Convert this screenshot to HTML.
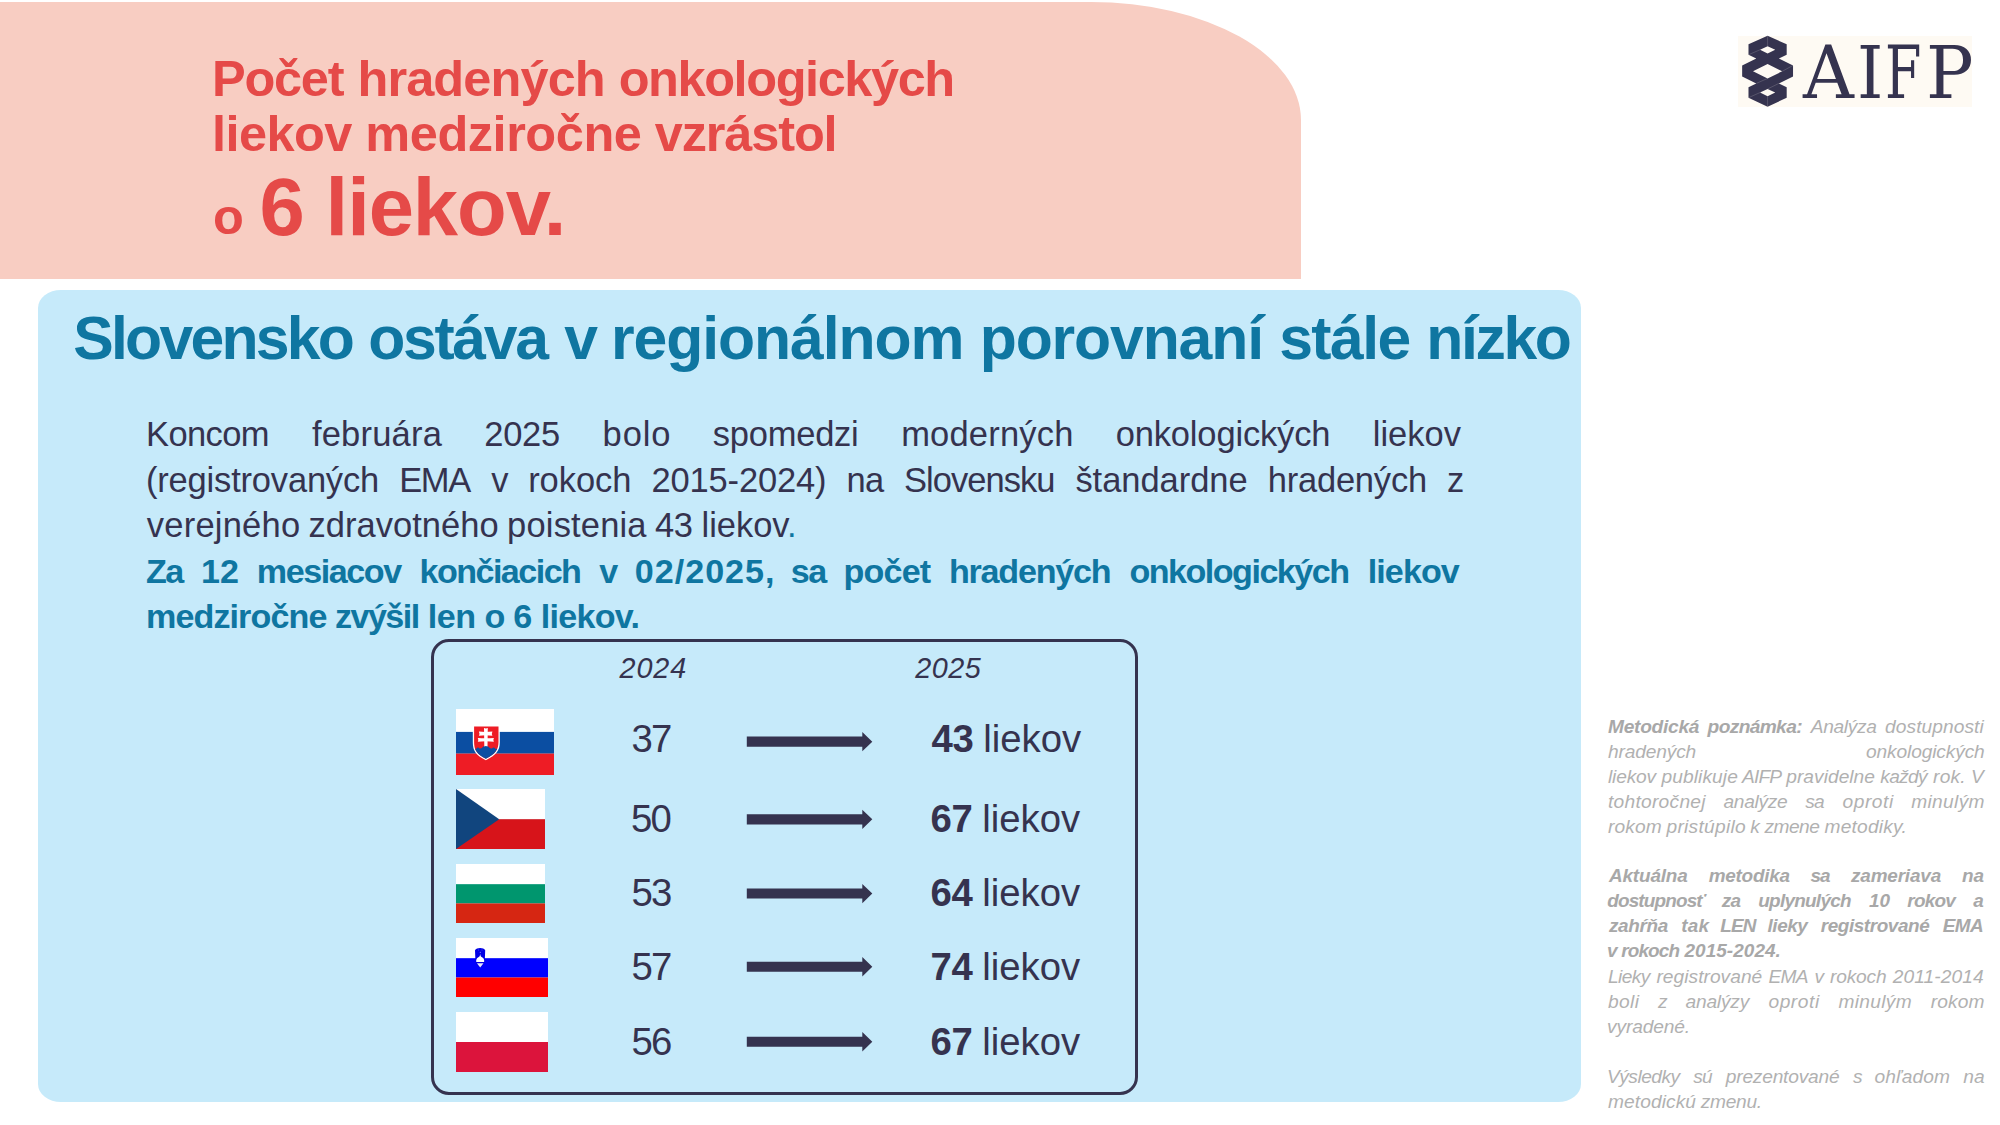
<!DOCTYPE html>
<html lang="sk">
<head>
<meta charset="utf-8">
<title>Počet hradených onkologických liekov</title>
<style>
html,body{margin:0;padding:0;background:#fff;}
body{width:2000px;height:1125px;position:relative;overflow:hidden;font-family:"Liberation Sans",sans-serif;}
.abs{position:absolute;}
.t{position:absolute;white-space:pre;line-height:1;font-family:"Liberation Sans",sans-serif;}
.w{display:inline-block;white-space:pre;}
#banner{left:0;top:2px;width:1301px;height:276.6px;background:#f8cdc2;border-top-right-radius:210px 118px;}
#panel{left:38.3px;top:290px;width:1542.8px;height:812.3px;background:#c6eafa;border-radius:23px / 18px;}
#box{left:431px;top:639.2px;width:707px;height:455.6px;box-sizing:border-box;border:3px solid #35334f;border-radius:18px;}
#logo{left:1738px;top:36px;width:234px;height:71px;background:#fefaf3;}
#aifp{position:absolute;font-family:"DejaVu Serif","Liberation Serif",serif;color:#35334f;white-space:pre;line-height:1;}
#aifp span{position:absolute;top:0;display:block;transform-origin:0 0;}
svg{position:absolute;display:block;}
</style>
</head>
<body>
<div id="banner" class="abs"></div>
<div id="panel" class="abs"></div>
<div id="box" class="abs"></div>

<!-- logo -->
<div id="logo" class="abs"></div>
<svg style="left:1730px;top:28px" width="80" height="86" viewBox="0 0 1047 1125.6">
  <path fill="#35334f" fill-rule="evenodd" d="M492 103 L742 212 L742 350 L640 400 L825 490 L825 635 L640 725 L742 775 L742 912 L492 1032 L242 912 L242 775 L344 725 L159 635 L159 490 L344 400 L242 350 L242 212 Z
  M492 238 L592 285 L492 335 L393 285 Z
  M492 472 L683 567 L492 660 L301 567 Z
  M492 798 L592 845 L492 893 L393 845 Z"/>
  <g stroke="#fefaf3" stroke-width="4" opacity=".55" fill="none">
    <path d="M492 103V238M242 350L393 285M683 567L825 490M344 725L492 660M640 725L492 798M242 912L393 845M492 893V1032"/>
  </g>
</svg>
<div id="aifp" style="left:1738px;top:36px;font-size:73px"><span style="left:65.4px;transform:scaleX(0.965)">A</span><span style="left:118.5px;transform:scaleX(0.913)">I</span><span style="left:147.3px;transform:scaleX(0.719)">F</span><span style="left:188.3px;transform:scaleX(0.967)">P</span></div>

<!-- flags -->
<svg style="left:456px;top:709px" width="98" height="66" viewBox="0 0 98 66">
  <rect width="98" height="66" fill="#fff"/><rect y="22.900" width="98" height="21.800" fill="#0b4ea2"/><rect y="44.600" width="98" height="21.400" fill="#ee1c25"/>
  <defs><clipPath id="skc"><path d="M18.100 18.100H42.500V33C42.500 41 39 45 29.800 49.700C20.600 45 18.100 41 18.100 33Z"/></clipPath></defs>
  <path d="M16.800 16.800H43.800V33C43.800 42 40 46 29.800 51.300C19.600 46 16.800 42 16.800 33Z" fill="#fff"/>
  <path d="M18.100 17.600H42.500V33C42.500 41 39 45 29.800 49.700C20.600 45 18.100 41 18.100 33Z" fill="#ee1c25"/>
  <path clip-path="url(#skc)" d="M16 52V41Q18 39.500 20.300 39.800Q21.800 37.600 23.600 39.500Q25.300 39.800 26.600 38.300Q28 36.900 29.800 36.600Q31.600 36.900 33 38.300Q34.300 39.800 36 39.500Q37.800 37.600 39.300 39.800Q41.600 39.500 43.600 41V52Z" fill="#0b4ea2"/>
  <g fill="#fff"><path d="M28 19Q29.900 19.800 31.800 19L31.500 37.400Q29.900 36.600 28.300 37.400Z"/>
  <path d="M22.900 22.600Q23.900 24.650 22.900 26.700Q29.650 25.900 36.400 26.700Q35.400 24.650 36.400 22.600Q29.650 23.400 22.900 22.600Z"/>
  <path d="M21.800 28.900Q22.900 30.800 21.800 32.700Q29.850 31.900 37.900 32.700Q36.800 30.800 37.900 28.900Q29.850 29.700 21.800 28.900Z"/></g>
</svg>
<svg style="left:456px;top:789px" width="89" height="60" viewBox="0 0 89 60">
  <rect width="89" height="30.2" fill="#fff"/><rect y="30.200" width="89" height="29.800" fill="#d7141a"/><path d="M0 0L43.200 30.200L0 60Z" fill="#11457e"/>
</svg>
<svg style="left:456px;top:864px" width="89" height="59" viewBox="0 0 89 59">
  <rect width="89" height="20.200" fill="#fff"/><rect y="20.200" width="89" height="19.200" fill="#00966e"/><rect y="39.400" width="89" height="19.600" fill="#d62612"/>
</svg>
<svg style="left:456px;top:938px" width="92" height="59" viewBox="0 0 92 59">
  <rect width="92" height="20.200" fill="#fff"/><rect y="20.200" width="92" height="19.300" fill="#0000ff"/><rect y="39.500" width="92" height="19.500" fill="#ff0000"/>
  <path d="M19 12.200C20.500 9.300 27.700 9.300 29.200 12.200L28.800 22c0 4-2.400 6.300-4.700 7.800c-2.300-1.500-4.700-3.800-4.700-7.800Z" fill="#0000e6"/>
  <path d="M24.200 16C24.500 18.300 25.200 18.900 26.400 19.500C28 20.400 28.500 22.300 28.100 23.900H20.300C19.900 22.300 20.400 20.400 22 19.500C23.200 18.900 23.900 18.300 24.200 16Z" fill="#fff"/><path d="M20.900 25.200h6.600l-3.300 4.400z" fill="#fff" opacity=".9"/>
  <circle cx="24.300" cy="14.300" r=".55" fill="#aab4ff"/><circle cx="22.600" cy="12" r=".4" fill="#8890ff"/><circle cx="26" cy="12" r=".4" fill="#8890ff"/>
</svg>
<svg style="left:456px;top:1012px" width="92" height="60" viewBox="0 0 92 60">
  <rect width="92" height="30" fill="#fff"/><rect y="30" width="92" height="30" fill="#dc143c"/>
</svg>

<!-- arrows -->
<svg style="left:740px;top:720px" width="140" height="350" viewBox="740 720 140 350">
  <g fill="#35334f">
    <path d="M746.800 736.60H862.300V732.00L872.300 741.65L862.300 751.30V746.70H746.800Z"/>
    <path d="M746.800 814.30H862.300V809.70L872.300 819.35L862.300 829.00V824.40H746.800Z"/>
    <path d="M746.800 888.50H862.300V883.90L872.300 893.55L862.300 903.20V898.60H746.800Z"/>
    <path d="M746.800 961.70H862.300V957.10L872.300 966.75L862.300 976.40V971.80H746.800Z"/>
    <path d="M746.800 1036.70H862.300V1032.10L872.300 1041.75L862.300 1051.40V1046.80H746.800Z"/>
  </g>
</svg>

<div class="t" style="left:212.0px;top:54.3px;font-size:50.51px;color:#e54a48;word-spacing:-1.09px"><span class="w" style="width:132.50px;letter-spacing:-1.25px"><span style="font-weight:700">Počet</span></span> <span class="w" style="width:248.27px;letter-spacing:-0.89px"><span style="font-weight:700">hradených</span></span> <span class="w" style="width:336.54px;letter-spacing:-1.42px"><span style="font-weight:700">onkologických</span></span></div>
<div class="t" style="left:212.0px;top:109.3px;font-size:50.51px;color:#e54a48;word-spacing:-1.10px"><span class="w" style="width:140.36px;letter-spacing:-0.56px"><span style="font-weight:700">liekov</span></span> <span class="w" style="width:276.58px;letter-spacing:-0.45px"><span style="font-weight:700">medziročne</span></span> <span class="w" style="width:182.83px;letter-spacing:-1.15px"><span style="font-weight:700">vzrástol</span></span></div>
<div class="t" style="left:213.0px;top:192.3px;font-size:50.51px;color:#e54a48"><span class="w" style="width:28.64px;text-align:center"><span style="font-weight:700">o</span></span></div>
<div class="t" style="left:259.0px;top:166.2px;font-size:81.38px;color:#e54a48;word-spacing:-2.07px"><span class="w" style="width:46.05px;text-align:center"><span style="font-weight:700">6</span></span> <span class="w" style="width:240.79px;letter-spacing:-1.07px"><span style="font-weight:700">liekov.</span></span></div>
<div class="t" style="left:75.0px;top:307.7px;font-size:60.7px;color:#0f76a1;word-spacing:-1.69px"><span class="w" style="width:281.70px;letter-spacing:-2.73px;margin:0 -1.81px"><span style="font-weight:700">Slovensko</span></span> <span class="w" style="width:180.73px;letter-spacing:-2.31px"><span style="font-weight:700">ostáva</span></span> <span class="w" style="width:31.74px;text-align:center"><span style="font-weight:700">v</span></span> <span class="w" style="width:353.47px;letter-spacing:-1.07px"><span style="font-weight:700">regionálnom</span></span> <span class="w" style="width:284.31px;letter-spacing:-1.13px"><span style="font-weight:700">porovnaní</span></span> <span class="w" style="width:131.99px;letter-spacing:-1.58px"><span style="font-weight:700">stále</span></span> <span class="w" style="width:145.51px;letter-spacing:-2.40px"><span style="font-weight:700">nízko</span></span></div>
<div class="t" style="left:146.0px;top:416.9px;font-size:34.5px;color:#35334f;word-spacing:32.80px"><span class="w" style="width:123.56px;letter-spacing:-0.60px">Koncom</span> <span class="w" style="width:129.88px;letter-spacing:0.20px">februára</span> <span class="w" style="width:76.03px;letter-spacing:-0.24px">2025</span> <span class="w" style="width:67.86px;letter-spacing:0.88px">bolo</span> <span class="w" style="width:145.88px;letter-spacing:-0.25px">spomedzi</span> <span class="w" style="width:172.23px;letter-spacing:0.20px">moderných</span> <span class="w" style="width:214.64px;letter-spacing:-0.17px">onkologických</span> <span class="w" style="width:88.20px;letter-spacing:-0.00px">liekov</span></div>
<div class="t" style="left:146.0px;top:462.9px;font-size:34.5px;color:#35334f;word-spacing:10.40px"><span class="w" style="width:233.17px;letter-spacing:-0.19px">(registrovaných</span> <span class="w" style="width:72.07px;letter-spacing:-1.35px">EMA</span> <span class="w" style="width:16.94px;text-align:center">v</span> <span class="w" style="width:103.36px;letter-spacing:-0.04px">rokoch</span> <span class="w" style="width:174.90px;letter-spacing:-0.17px">2015-2024)</span> <span class="w" style="width:37.66px;letter-spacing:-0.71px">na</span> <span class="w" style="width:151.32px;letter-spacing:-0.98px">Slovensku</span> <span class="w" style="width:172.30px;letter-spacing:-0.04px">štandardne</span> <span class="w" style="width:159.39px;letter-spacing:-0.21px">hradených</span> <span class="w" style="width:14.81px;text-align:center">z</span></div>
<div class="t" style="left:146.8px;top:507.9px;font-size:34.5px;color:#35334f;word-spacing:-1.11px"><span class="w" style="width:153.28px;letter-spacing:0.22px">verejného</span> <span class="w" style="width:190.08px;letter-spacing:0.02px">zdravotného</span> <span class="w" style="width:139.42px;letter-spacing:0.16px">poistenia</span> <span class="w" style="width:38.01px;letter-spacing:-0.36px">43</span> <span class="w" style="width:97.67px;letter-spacing:-0.02px">liekov<span style="color:#0f76a1">.</span></span></div>
<div class="t" style="left:147.0px;top:554.2px;font-size:34.12px;color:#0f76a1;word-spacing:8.31px"><span class="w" style="width:38.27px;letter-spacing:-1.54px;margin:0 -1.01px"><span style="font-weight:700">Za</span></span> <span class="w" style="width:38.01px;letter-spacing:0.07px"><span style="font-weight:700">12</span></span> <span class="w" style="width:145.37px;letter-spacing:-1.45px"><span style="font-weight:700">mesiacov</span></span> <span class="w" style="width:162.49px;letter-spacing:-1.54px;margin:0 -0.57px"><span style="font-weight:700">končiacich</span></span> <span class="w" style="width:17.74px;text-align:center"><span style="font-weight:700">v</span></span> <span class="w" style="width:139.82px;letter-spacing:1.01px"><span style="font-weight:700">02/2025,</span></span> <span class="w" style="width:36.40px;letter-spacing:-1.54px;margin:0 -1.47px"><span style="font-weight:700">sa</span></span> <span class="w" style="width:87.60px;letter-spacing:-0.84px"><span style="font-weight:700">počet</span></span> <span class="w" style="width:162.69px;letter-spacing:-1.23px"><span style="font-weight:700">hradených</span></span> <span class="w" style="width:220.53px;letter-spacing:-1.52px"><span style="font-weight:700">onkologických</span></span> <span class="w" style="width:92.03px;letter-spacing:-0.93px"><span style="font-weight:700">liekov</span></span></div>
<div class="t" style="left:146.0px;top:599.2px;font-size:34.12px;color:#0f76a1;word-spacing:-1.00px"><span class="w" style="width:181.35px;letter-spacing:-0.91px"><span style="font-weight:700">medziročne</span></span> <span class="w" style="width:85.24px;letter-spacing:-1.54px;margin:0 -0.85px"><span style="font-weight:700">zvýšil</span></span> <span class="w" style="width:48.21px;letter-spacing:-0.54px"><span style="font-weight:700">len</span></span> <span class="w" style="width:20.16px;text-align:center"><span style="font-weight:700">o</span></span> <span class="w" style="width:19.01px;text-align:center"><span style="font-weight:700">6</span></span> <span class="w" style="width:99.39px;letter-spacing:-0.71px"><span style="font-weight:700">liekov.</span></span></div>
<div class="t" style="left:619.5px;top:653.8px;font-size:28.75px;color:#35334f;font-style:italic"><span class="w" style="width:66.64px;letter-spacing:0.89px">2024</span></div>
<div class="t" style="left:915.3px;top:653.8px;font-size:28.75px;color:#35334f;font-style:italic"><span class="w" style="width:65.44px;letter-spacing:0.49px">2025</span></div>
<div class="t" style="left:631.4px;top:719.6px;font-size:38.34px;color:#35334f"><span class="w" style="width:40.91px;letter-spacing:-1.72px">37</span></div>
<div class="t" style="left:931.6px;top:719.6px;font-size:38.34px;color:#35334f;word-spacing:-1.23px"><span class="w" style="width:42.23px;letter-spacing:-0.41px"><span style="font-weight:700">43</span></span> <span class="w" style="width:97.98px;letter-spacing:-0.00px">liekov</span></div>
<div class="t" style="left:631.4px;top:799.6px;font-size:38.34px;color:#35334f"><span class="w" style="width:40.91px;letter-spacing:-1.73px;margin:0 -0.50px">50</span></div>
<div class="t" style="left:930.6px;top:799.6px;font-size:38.34px;color:#35334f;word-spacing:-1.23px"><span class="w" style="width:42.23px;letter-spacing:-0.41px"><span style="font-weight:700">67</span></span> <span class="w" style="width:97.98px;letter-spacing:-0.00px">liekov</span></div>
<div class="t" style="left:631.4px;top:873.6px;font-size:38.34px;color:#35334f"><span class="w" style="width:40.91px;letter-spacing:-1.72px">53</span></div>
<div class="t" style="left:930.6px;top:873.6px;font-size:38.34px;color:#35334f;word-spacing:-1.23px"><span class="w" style="width:42.23px;letter-spacing:-0.41px"><span style="font-weight:700">64</span></span> <span class="w" style="width:97.98px;letter-spacing:-0.00px">liekov</span></div>
<div class="t" style="left:631.4px;top:947.6px;font-size:38.34px;color:#35334f"><span class="w" style="width:40.91px;letter-spacing:-1.72px">57</span></div>
<div class="t" style="left:930.6px;top:947.6px;font-size:38.34px;color:#35334f;word-spacing:-1.23px"><span class="w" style="width:42.23px;letter-spacing:-0.41px"><span style="font-weight:700">74</span></span> <span class="w" style="width:97.98px;letter-spacing:-0.00px">liekov</span></div>
<div class="t" style="left:631.4px;top:1022.6px;font-size:38.34px;color:#35334f"><span class="w" style="width:40.91px;letter-spacing:-1.72px">56</span></div>
<div class="t" style="left:930.6px;top:1022.6px;font-size:38.34px;color:#35334f;word-spacing:-1.23px"><span class="w" style="width:42.23px;letter-spacing:-0.41px"><span style="font-weight:700">67</span></span> <span class="w" style="width:97.98px;letter-spacing:-0.00px">liekov</span></div>
<div class="t" style="left:1608.0px;top:716.9px;font-size:19.16px;color:#b1b1b1;word-spacing:2.87px;font-style:italic"><span class="w" style="width:91.40px;letter-spacing:-0.28px"><span style="font-weight:700;color:#a8a8a8">Metodická</span></span> <span class="w" style="width:94.97px;letter-spacing:-0.64px"><span style="font-weight:700;color:#a8a8a8">poznámka:</span></span> <span class="w" style="width:66.13px;letter-spacing:-0.34px">Analýza</span> <span class="w" style="width:98.54px;letter-spacing:0.06px">dostupnosti</span></div>
<div class="t" style="left:1608.0px;top:741.9px;font-size:19.16px;color:#b1b1b1;word-spacing:164.53px;font-style:italic"><span class="w" style="width:88.23px;letter-spacing:-0.15px">hradených</span> <span class="w" style="width:118.62px;letter-spacing:-0.14px">onkologických</span></div>
<div class="t" style="left:1608.0px;top:766.9px;font-size:19.16px;color:#b1b1b1;word-spacing:0.05px;font-style:italic"><span class="w" style="width:48.14px;letter-spacing:-0.17px">liekov</span> <span class="w" style="width:76.34px;letter-spacing:0.09px">publikuje</span> <span class="w" style="width:39.99px;letter-spacing:-0.86px;margin:0 -1.18px">AIFP</span> <span class="w" style="width:88.71px;letter-spacing:0.04px">pravidelne</span> <span class="w" style="width:47.38px;letter-spacing:-0.67px">každý</span> <span class="w" style="width:32.55px;letter-spacing:0.21px">rok.</span> <span class="w" style="width:11.82px;text-align:center">V</span></div>
<div class="t" style="left:1608.0px;top:791.9px;font-size:19.16px;color:#b1b1b1;word-spacing:12.68px;font-style:italic"><span class="w" style="width:97.46px;letter-spacing:0.27px">tohtoročnej</span> <span class="w" style="width:64.10px;letter-spacing:-0.32px">analýze</span> <span class="w" style="width:19.37px;letter-spacing:-0.86px;margin:0 -0.28px">sa</span> <span class="w" style="width:50.83px;letter-spacing:0.58px">oproti</span> <span class="w" style="width:73.24px;letter-spacing:0.32px">minulým</span></div>
<div class="t" style="left:1608.0px;top:816.9px;font-size:19.16px;color:#b1b1b1;word-spacing:-0.61px;font-style:italic"><span class="w" style="width:53.75px;letter-spacing:0.13px">rokom</span> <span class="w" style="width:79.14px;letter-spacing:0.28px">pristúpilo</span> <span class="w" style="width:9.47px;text-align:center">k</span> <span class="w" style="width:55.30px;letter-spacing:-0.55px">zmene</span> <span class="w" style="width:82.24px;letter-spacing:0.21px">metodiky.</span></div>
<div class="t" style="left:1609.0px;top:867.0px;font-size:18.96px;color:#a8a8a8;word-spacing:15.62px;font-style:italic"><span class="w" style="width:78.81px;letter-spacing:-0.17px"><span style="font-weight:700">Aktuálna</span></span> <span class="w" style="width:81.36px;letter-spacing:-0.25px"><span style="font-weight:700">metodika</span></span> <span class="w" style="width:20.21px;letter-spacing:-0.85px;margin:0 -0.51px"><span style="font-weight:700">sa</span></span> <span class="w" style="width:90.14px;letter-spacing:-0.18px"><span style="font-weight:700">zameriava</span></span> <span class="w" style="width:21.98px;letter-spacing:-0.12px"><span style="font-weight:700">na</span></span></div>
<div class="t" style="left:1608.0px;top:892.0px;font-size:18.96px;color:#a8a8a8;word-spacing:12.06px;font-style:italic"><span class="w" style="width:98.17px;letter-spacing:-0.85px;margin:0 -0.78px"><span style="font-weight:700">dostupnosť</span></span> <span class="w" style="width:19.15px;letter-spacing:-0.85px;margin:0 -0.10px"><span style="font-weight:700">za</span></span> <span class="w" style="width:93.32px;letter-spacing:-0.74px"><span style="font-weight:700">uplynulých</span></span> <span class="w" style="width:21.11px;letter-spacing:0.05px"><span style="font-weight:700">10</span></span> <span class="w" style="width:48.41px;letter-spacing:-0.79px"><span style="font-weight:700">rokov</span></span> <span class="w" style="width:10.99px;text-align:center"><span style="font-weight:700">a</span></span></div>
<div class="t" style="left:1609.0px;top:917.0px;font-size:18.96px;color:#a8a8a8;word-spacing:7.63px;font-style:italic"><span class="w" style="width:59.25px;letter-spacing:-0.36px"><span style="font-weight:700">zahŕňa</span></span> <span class="w" style="width:27.96px;letter-spacing:0.29px"><span style="font-weight:700">tak</span></span> <span class="w" style="width:36.17px;letter-spacing:-0.85px;margin:0 -1.77px"><span style="font-weight:700">LEN</span></span> <span class="w" style="width:40.25px;letter-spacing:-0.47px"><span style="font-weight:700">lieky</span></span> <span class="w" style="width:109.08px;letter-spacing:-0.42px"><span style="font-weight:700">registrované</span></span> <span class="w" style="width:40.99px;letter-spacing:-0.55px"><span style="font-weight:700">EMA</span></span></div>
<div class="t" style="left:1607.0px;top:942.0px;font-size:18.96px;color:#a8a8a8;word-spacing:-0.55px;font-style:italic"><span class="w" style="width:9.77px;text-align:center"><span style="font-weight:700">v</span></span> <span class="w" style="width:58.87px;letter-spacing:-0.85px;margin:0 -0.31px"><span style="font-weight:700">rokoch</span></span> <span class="w" style="width:96.39px;letter-spacing:0.06px"><span style="font-weight:700">2015-2024.</span></span></div>
<div class="t" style="left:1608.0px;top:966.9px;font-size:19.16px;color:#b1b1b1;word-spacing:0.82px;font-style:italic"><span class="w" style="width:42.27px;letter-spacing:-0.61px">Lieky</span> <span class="w" style="width:105.81px;letter-spacing:0.04px">registrované</span> <span class="w" style="width:40.03px;letter-spacing:-0.74px">EMA</span> <span class="w" style="width:9.29px;text-align:center">v</span> <span class="w" style="width:56.65px;letter-spacing:-0.17px">rokoch</span> <span class="w" style="width:90.83px;letter-spacing:0.08px">2011-2014</span></div>
<div class="t" style="left:1608.0px;top:991.9px;font-size:19.16px;color:#b1b1b1;word-spacing:13.82px;font-style:italic"><span class="w" style="width:30.96px;letter-spacing:0.38px">boli</span> <span class="w" style="width:8.23px;text-align:center">z</span> <span class="w" style="width:63.77px;letter-spacing:-0.20px">analýzy</span> <span class="w" style="width:50.83px;letter-spacing:0.58px">oproti</span> <span class="w" style="width:73.24px;letter-spacing:0.32px">minulým</span> <span class="w" style="width:53.75px;letter-spacing:0.13px">rokom</span></div>
<div class="t" style="left:1607.0px;top:1016.9px;font-size:19.16px;color:#b1b1b1;font-style:italic"><span class="w" style="width:83.14px;letter-spacing:-0.12px">vyradené.</span></div>
<div class="t" style="left:1607.0px;top:1066.9px;font-size:19.16px;color:#b1b1b1;word-spacing:8.04px;font-style:italic"><span class="w" style="width:73.18px;letter-spacing:-0.50px">Výsledky</span> <span class="w" style="width:19.37px;letter-spacing:-0.86px;margin:0 -0.28px">sú</span> <span class="w" style="width:113.91px;letter-spacing:-0.20px">prezentované</span> <span class="w" style="width:8.11px;text-align:center">s</span> <span class="w" style="width:75.47px;letter-spacing:0.14px">ohľadom</span> <span class="w" style="width:21.42px;letter-spacing:0.11px">na</span></div>
<div class="t" style="left:1608.0px;top:1091.9px;font-size:19.16px;color:#b1b1b1;word-spacing:-0.61px;font-style:italic"><span class="w" style="width:88.05px;letter-spacing:0.09px">metodickú</span> <span class="w" style="width:61.33px;letter-spacing:-0.30px">zmenu.</span></div>
</body>
</html>
